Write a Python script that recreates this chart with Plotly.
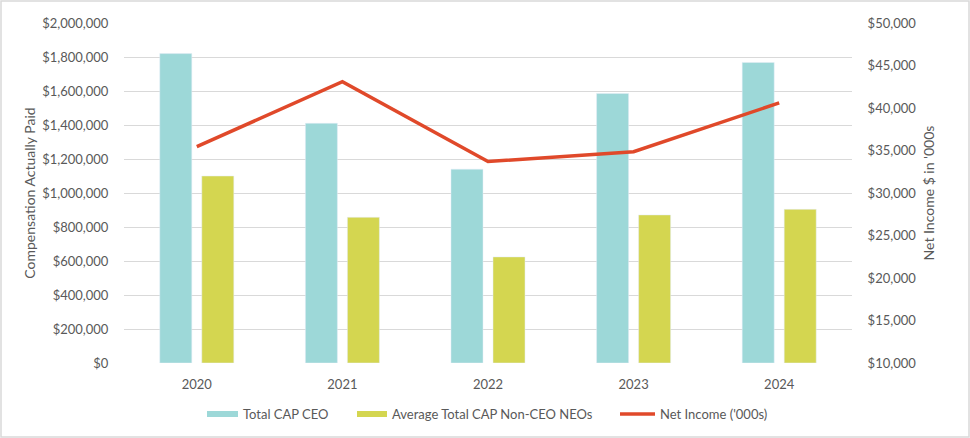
import plotly.graph_objects as go

years = ["2020", "2021", "2022", "2023", "2024"]
cap_ceo = [1820000, 1410000, 1140000, 1585000, 1768000]
cap_neo = [1100000, 857000, 624000, 871000, 904000]
net_income = [35450, 43100, 33700, 34850, 40600]

names = ["Total CAP CEO", "Average Total CAP Non-CEO NEOs", "Net Income ('000s)"]
colors = ["#9DD8D8", "#D4D650", "#E0492A"]

W, H = 970, 438
ml, mr, mt, mb = 124, 118, 23, 75
pw, ph = W - ml - mr, H - mt - mb


def px_x(px):
    return (px - ml) / pw


def px_y(py):
    return (H - mb - py) / ph


font = dict(family="Lato, 'Open Sans', sans-serif", size=13, color="#595959")

fig = go.Figure()
fig.add_trace(go.Bar(x=years, y=cap_ceo, name=names[0], marker_color=colors[0]))
fig.add_trace(go.Bar(x=years, y=cap_neo, name=names[1], marker_color=colors[1]))
fig.add_trace(go.Scatter(x=years, y=net_income, name=names[2], yaxis="y2",
                         mode="lines", line=dict(color=colors[2], width=3.5)))

# manual legend (wide swatches like the original)
legend_y = 414
swatches = [(207, 238, "bar"), (357, 387, "bar"), (620, 655, "line")]
shapes = []
annotations = []
for (x0, x1, kind), name, col in zip(swatches, names, colors):
    if kind == "bar":
        shapes.append(dict(type="rect", xref="paper", yref="paper",
                           x0=px_x(x0), x1=px_x(x1), y0=px_y(legend_y + 3), y1=px_y(legend_y - 3),
                           fillcolor=col, line=dict(width=0)))
    else:
        shapes.append(dict(type="line", xref="paper", yref="paper",
                           x0=px_x(x0), x1=px_x(x1), y0=px_y(legend_y), y1=px_y(legend_y),
                           line=dict(color=col, width=3.5)))
    annotations.append(dict(text=name, xref="paper", yref="paper", x=px_x(x1 + 3), y=px_y(legend_y),
                            xanchor="left", yanchor="middle", showarrow=False,
                            font=dict(size=13, color="#595959")))

shapes.append(dict(type="rect", xref="paper", yref="paper",
                   x0=px_x(1), x1=px_x(W - 1), y0=px_y(H - 1), y1=px_y(1),
                   line=dict(color="#D9D9D9", width=1.5), fillcolor="rgba(0,0,0,0)", layer="below"))

fig.update_layout(
    width=W, height=H,
    margin=dict(l=ml, r=mr, t=mt, b=mb, autoexpand=False),
    paper_bgcolor="white", plot_bgcolor="white",
    font=font,
    showlegend=False,
    barmode="group", bargap=0.423, bargroupgap=0.238,
    xaxis=dict(showgrid=False, showline=False, ticks="outside", ticklen=9, tickcolor="white",
               tickfont=dict(size=13), automargin=False),
    yaxis=dict(range=[0, 2000000], dtick=200000, tickprefix="$", tickformat=",d",
               showgrid=True, gridcolor="#D9D9D9", gridwidth=1, zeroline=False,
               title=dict(text="Compensation Actually Paid", font=dict(size=14), standoff=3),
               ticklen=12, tickcolor="white", ticks="outside", automargin=False),
    yaxis2=dict(range=[10000, 50000], dtick=5000, tickprefix="$", tickformat=",d",
                overlaying="y", side="right", showgrid=False, zeroline=False,
                title=dict(text="Net Income $ in '000s", font=dict(size=14), standoff=8),
                ticklen=12, tickcolor="white", ticks="outside", automargin=False),
    shapes=shapes,
    annotations=annotations,
)

fig.write_html("out.html", config={"displayModeBar": False},
               post_script="document.body.style.margin='0';document.body.style.overflow='hidden';")
